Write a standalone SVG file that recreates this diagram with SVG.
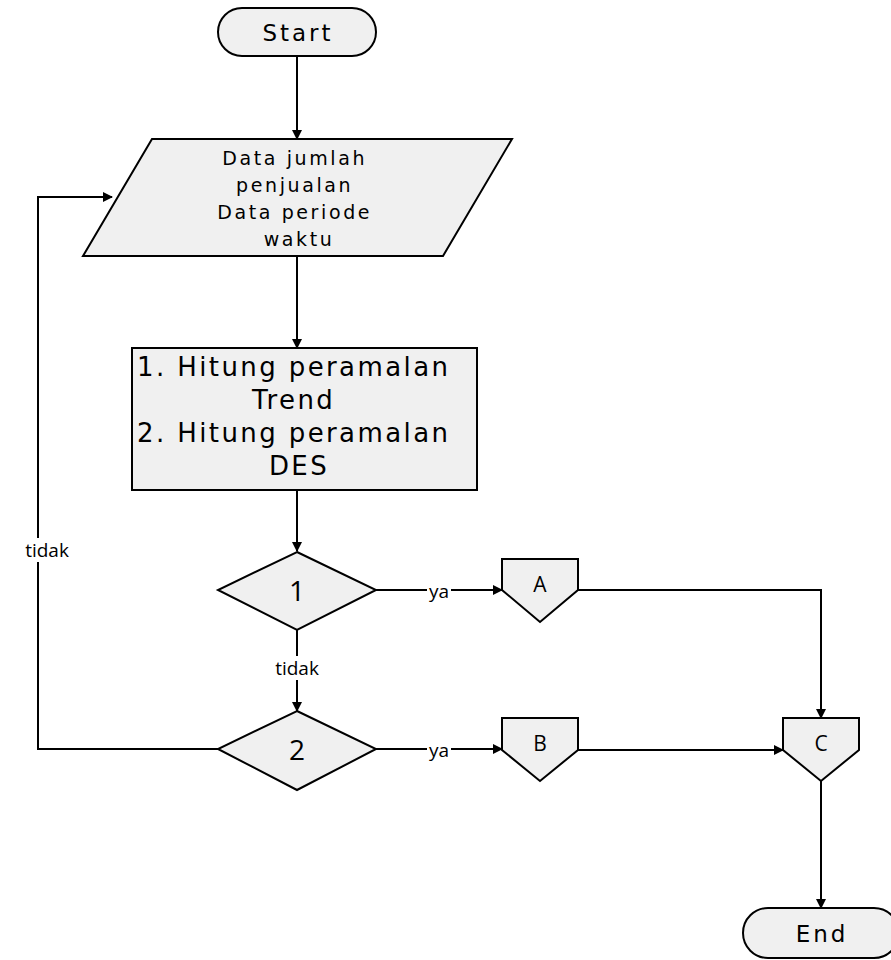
<svg xmlns="http://www.w3.org/2000/svg" width="891" height="960" viewBox="0 0 891 960">
<defs>
<marker id="arr" markerWidth="10" markerHeight="10" refX="9" refY="5" orient="auto" markerUnits="userSpaceOnUse">
<path d="M0,0 L10,5 L0,10 Z" fill="#000"/>
</marker>
<style>
.shape{fill:#f0f0f0;stroke:#000;stroke-width:2}
.edge{fill:none;stroke:#000;stroke-width:2}
.t{font-family:"DejaVu Sans","Liberation Sans",sans-serif;fill:#000;text-anchor:middle;dominant-baseline:central}
.lbl{font-family:"Open Sans","Liberation Sans",sans-serif;fill:#000;text-anchor:middle;dominant-baseline:central;font-size:19px}
</style>
</defs>
<rect width="891" height="960" fill="#fff"/>
<g id="connectors">
<path class="edge" d="M297,56 V139" marker-end="url(#arr)"/>
<path class="edge" d="M297,256 V348" marker-end="url(#arr)"/>
<path class="edge" d="M297,490 V551" marker-end="url(#arr)"/>
<path class="edge" d="M376,590 H502" marker-end="url(#arr)"/>
<path class="edge" d="M297,630 V711" marker-end="url(#arr)"/>
<path class="edge" d="M376,749 H502" marker-end="url(#arr)"/>
<path class="edge" d="M218,749 H38 V197 H112" marker-end="url(#arr)"/>
<path class="edge" d="M578,590 H821 V718" marker-end="url(#arr)"/>
<path class="edge" d="M578,750 H783" marker-end="url(#arr)"/>
<path class="edge" d="M821,781 V908" marker-end="url(#arr)"/>
<rect x="427" y="580" width="24" height="22" fill="#fff"/>
<text class="lbl" x="439" y="591">ya</text>
<rect x="427" y="738" width="24" height="22" fill="#fff"/>
<text class="lbl" x="439" y="750">ya</text>
<rect x="272" y="656" width="50" height="24" fill="#fff"/>
<text class="lbl" x="297" y="668">tidak</text>
<rect x="24" y="538" width="48" height="24" fill="#fff"/>
<text class="lbl" x="47" y="550">tidak</text>
</g>
<g id="start">
<rect class="shape" x="218" y="8" width="158" height="48" rx="24"/>
<text class="t" x="298" y="33" font-size="23" letter-spacing="3">Start</text>
</g>
<g id="input">
<polygon class="shape" points="152,139 512,139 443,256 83,256"/>
<text class="t" font-size="19" letter-spacing="2.6">
<tspan x="299" y="158">Data jumlah</tspan>
<tspan x="299" y="185">penjualan</tspan>
<tspan x="299" y="212">Data periode</tspan>
<tspan x="299" y="239">waktu</tspan>
</text>
</g>
<g id="process">
<rect class="shape" x="132" y="348" width="345" height="142"/>
<text class="t" font-size="26" letter-spacing="2.4">
<tspan x="299" y="367">1. Hitung peramalan</tspan>
<tspan x="299" y="400">Trend</tspan>
<tspan x="299" y="433">2. Hitung peramalan</tspan>
<tspan x="299" y="466">DES</tspan>
</text>
</g>
<g id="decision1">
<polygon class="shape" points="297,552 376,590 297,630 218,590"/>
<text class="lbl" x="297" y="590" style="font-size:28px">1</text>
</g>
<g id="decision2">
<polygon class="shape" points="297,711 376,749 297,790 218,749"/>
<text class="lbl" x="297" y="749" style="font-size:28px">2</text>
</g>
<g id="connA">
<polygon class="shape" points="502,559 578,559 578,590 540,622 502,590"/>
<text class="lbl" x="540" y="584" style="font-size:21px">A</text>
</g>
<g id="connB">
<polygon class="shape" points="502,718 578,718 578,750 540,781 502,750"/>
<text class="lbl" x="540" y="743" style="font-size:21px">B</text>
</g>
<g id="connC">
<polygon class="shape" points="783,718 859,718 859,750 821,781 783,750"/>
<text class="lbl" x="821" y="743" style="font-size:21px">C</text>
</g>
<g id="end">
<rect class="shape" x="743" y="908" width="156" height="50" rx="25"/>
<text class="t" x="822" y="934" font-size="23" letter-spacing="3">End</text>
</g>
</svg>
